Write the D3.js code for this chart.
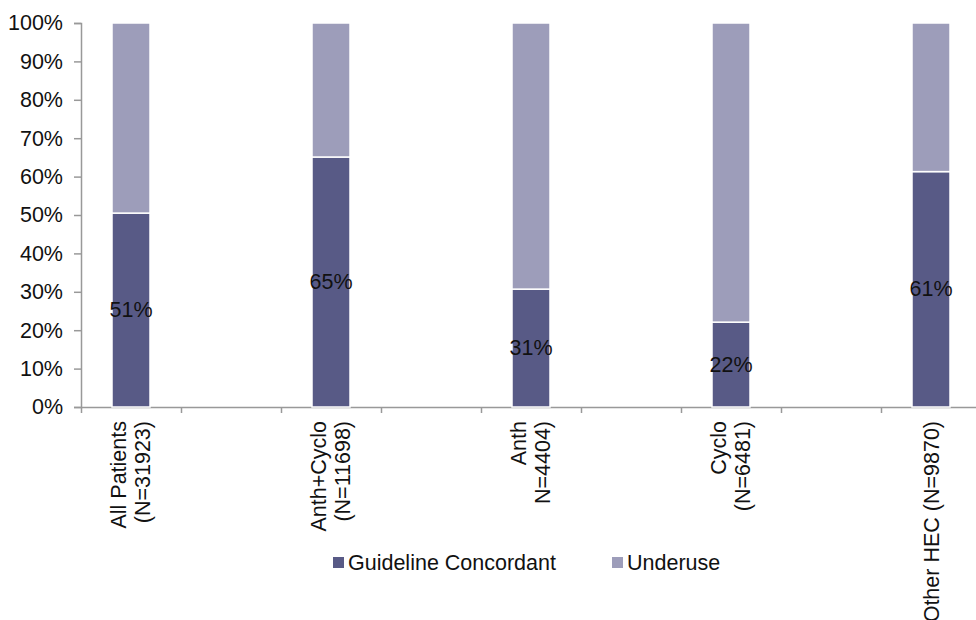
<!DOCTYPE html>
<html>
<head>
<meta charset="utf-8">
<script src="https://cdn.jsdelivr.net/npm/d3@7/dist/d3.min.js"></script>
<style>
  html, body { margin: 0; padding: 0; background: #fff; }
  svg { display: block; font-family: "Liberation Sans", Arial, sans-serif; }
</style>
</head>
<body>
<svg id="chart" width="976" height="620"></svg>
<script>
// ---- data ----
const categoryLines = [
  ["All Patients", "(N=31923)"],
  ["Anth+Cyclo", "(N=11698)"],
  ["Anth", "N=4404)"],
  ["Cyclo", "(N=6481)"],
  ["Other HEC (N=9870)"]
];
const concordant = [50.5, 65.1, 30.7, 22.1, 61.3];
const underuse = concordant.map(v => 100 - v);
const seriesNames = ["Guideline Concordant", "Underuse"];
const yTicks = [0, 10, 20, 30, 40, 50, 60, 70, 80, 90, 100];

// ---- layout ----
const colors = ["#585A86", "#9D9DBA"];
const svg = d3.select("#chart");
const slots = categoryLines.length * 2 - 1;
const x = d3.scaleLinear().domain([0, slots]).range([81, 81 + slots * 100]);
const y = d3.scaleLinear().domain([0, 100]).range([407, 23]);
const fontSize = 21.5;
const barFrac = 0.38;

// axes
const yAxis = svg.append("g").attr("transform", `translate(${x(0)},0)`)
  .call(d3.axisLeft(y).tickValues(yTicks).tickSize(7).tickPadding(11).tickFormat(d => d + "%"));
yAxis.select(".domain").attr("stroke", "#999").attr("stroke-width", 1.5);
yAxis.selectAll(".tick line").attr("stroke", "#999").attr("stroke-width", 1.5);
yAxis.selectAll(".tick text").attr("font-size", fontSize).attr("fill", "#111")
  .attr("font-family", "Liberation Sans, Arial, sans-serif");

const xAxis = svg.append("g").attr("transform", `translate(0,${y(0)})`)
  .call(d3.axisBottom(x).tickValues(d3.range(slots + 1)).tickSize(6).tickSizeOuter(0).tickFormat(""));
xAxis.select(".domain").attr("stroke", "#999").attr("stroke-width", 1.5);
xAxis.selectAll(".tick line").attr("stroke", "#999").attr("stroke-width", 1.5);

// bars
const band = x(1) - x(0);
const bw = band * barFrac;
const bars = svg.append("g");
categoryLines.forEach((c, i) => {
  const cx = x(i * 2 + 0.5);
  const stack = [[0, concordant[i]], [concordant[i], concordant[i] + underuse[i]]];
  stack.forEach((s, k) => {
    bars.append("rect")
      .attr("x", cx - bw / 2)
      .attr("y", y(s[1]))
      .attr("width", bw)
      .attr("height", y(s[0]) - y(s[1]))
      .attr("fill", colors[k])
      .attr("stroke", "#fff")
      .attr("stroke-width", 1.5);
  });
  svg.append("text")
    .attr("x", cx)
    .attr("y", (y(0) + y(concordant[i])) / 2)
    .attr("text-anchor", "middle")
    .attr("dominant-baseline", "central")
    .attr("font-size", fontSize)
    .attr("fill", "#111")
    .text(Math.round(concordant[i]) + "%");

  // category label, rotated
  const g = svg.append("g").attr("transform", `translate(${cx},${y(0) + 14}) rotate(-90)`);
  const offsets = c.length === 2 ? [-5, 19] : [8];
  c.forEach((line, j) => {
    g.append("text")
      .attr("x", 0)
      .attr("y", offsets[j])
      .attr("text-anchor", "end")
      .attr("font-size", fontSize)
      .attr("fill", "#111")
      .text(line);
  });
});

// legend
const legendX = [333, 612];
seriesNames.forEach((n, k) => {
  svg.append("rect").attr("x", legendX[k]).attr("y", 557).attr("width", 11).attr("height", 11)
    .attr("fill", colors[k]);
  svg.append("text").attr("x", legendX[k] + 15).attr("y", 562.5)
    .attr("dominant-baseline", "central")
    .attr("font-size", fontSize).attr("fill", "#111").text(n);
});
</script>
</body>
</html>
